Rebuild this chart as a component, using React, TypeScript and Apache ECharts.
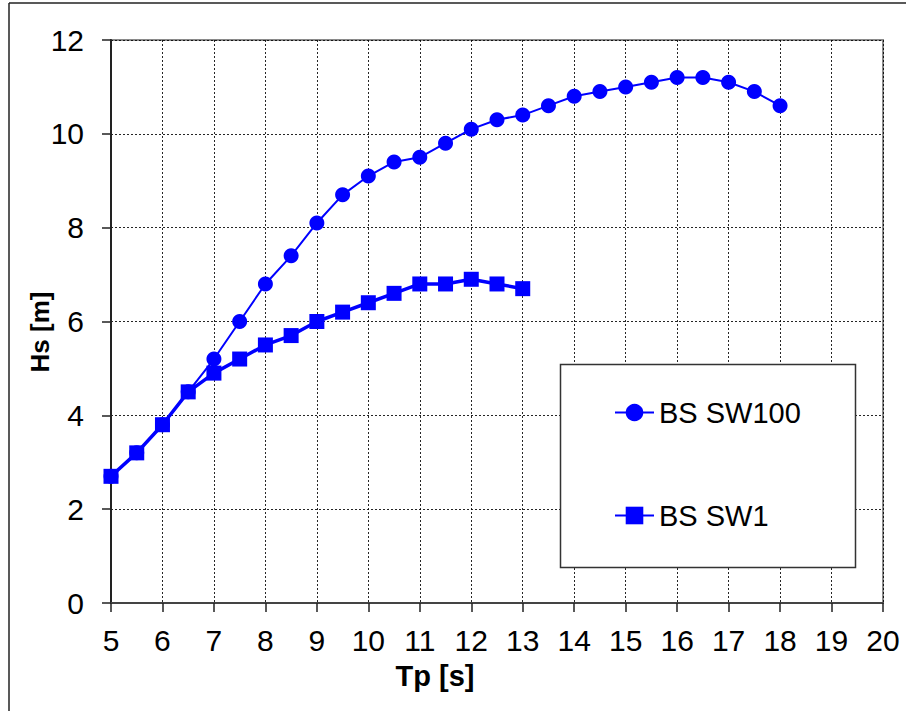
import React, { useEffect, useRef } from "react";
import * as echarts from "echarts";

const tpSW100 = [5, 5.5, 6, 6.5, 7, 7.5, 8, 8.5, 9, 9.5, 10, 10.5, 11, 11.5, 12, 12.5, 13, 13.5, 14, 14.5, 15, 15.5, 16, 16.5, 17, 17.5, 18];
const hsSW100 = [2.7, 3.2, 3.8, 4.5, 5.2, 6.0, 6.8, 7.4, 8.1, 8.7, 9.1, 9.4, 9.5, 9.8, 10.1, 10.3, 10.4, 10.6, 10.8, 10.9, 11.0, 11.1, 11.2, 11.2, 11.1, 10.9, 10.6];
const tpSW1 = [5, 5.5, 6, 6.5, 7, 7.5, 8, 8.5, 9, 9.5, 10, 10.5, 11, 11.5, 12, 12.5, 13];
const hsSW1 = [2.7, 3.2, 3.8, 4.5, 4.9, 5.2, 5.5, 5.7, 6.0, 6.2, 6.4, 6.6, 6.8, 6.8, 6.9, 6.8, 6.7];
const seriesNames = ["BS SW100", "BS SW1"];
const xTitle = "Tp [s]";
const yTitle = "Hs [m]";

const FONT = "'Liberation Sans', Arial, sans-serif";
const BLUE = "#0000ff";

export default function App() {
  const ref = useRef<HTMLDivElement>(null);
  useEffect(() => {
    if (!ref.current) return;
    const chart = echarts.init(ref.current, undefined, { renderer: "svg" });
    const gridLine = { show: true, lineStyle: { color: "#000", width: 1, type: [2, 2] as any, opacity: 0.85 } };
    chart.setOption({
      animation: false,
      backgroundColor: "#fff",
      grid: {
        left: 111,
        top: 40,
        right: 23,
        bottom: 108,
        show: true,
        borderColor: "#8a8a8a",
        borderWidth: 2,
        backgroundColor: "transparent",
      },
      xAxis: {
        type: "value",
        min: 5,
        max: 20,
        interval: 1,
        axisLine: { show: true, onZero: false, lineStyle: { color: "#444", width: 2 } },
        axisTick: { show: true, length: 9, lineStyle: { color: "#222", width: 1.5 } },
        axisLabel: { fontFamily: FONT, fontSize: 30, color: "#000", margin: 22 },
        splitLine: gridLine,
      },
      yAxis: {
        type: "value",
        min: 0,
        max: 12,
        interval: 2,
        axisLine: { show: true, onZero: false, lineStyle: { color: "#222", width: 2 } },
        axisTick: { show: true, length: 9, lineStyle: { color: "#222", width: 1.5 } },
        axisLabel: { fontFamily: FONT, fontSize: 30, color: "#000", margin: 27 },
        splitLine: gridLine,
      },
      legend: {
        show: true,
        orient: "vertical",
        left: 614,
        top: 398,
        padding: 0,
        itemGap: 74,
        itemWidth: 39,
        itemHeight: 22,
        textStyle: { fontFamily: FONT, fontSize: 29, color: "#000" },
        data: seriesNames,
        z: 10,
      },
      graphic: [
        {
          type: "rect",
          z: 5,
          shape: { x: 560.5, y: 364.5, width: 295, height: 203 },
          style: { fill: "#fff", stroke: "#333", lineWidth: 1.5 },
        },
        {
          type: "line",
          z: 5,
          shape: { x1: 9, y1: 3, x2: 9, y2: 711 },
          style: { stroke: "#222", lineWidth: 1.5 },
        },
        {
          type: "line",
          z: 5,
          shape: { x1: 9, y1: 3, x2: 906, y2: 3 },
          style: { stroke: "#222", lineWidth: 1.5 },
        },
        {
          type: "text",
          z: 5,
          x: 435,
          y: 676,
          style: { text: xTitle, fontFamily: FONT, fontWeight: "bold", fontSize: 29, fill: "#000", align: "center", verticalAlign: "middle" },
        },
        {
          type: "text",
          z: 5,
          x: 40,
          y: 332,
          rotation: Math.PI / 2,
          style: { text: yTitle, fontFamily: FONT, fontWeight: "bold", fontSize: 26, fill: "#000", align: "center", verticalAlign: "middle" },
        },
      ],
      series: [
        {
          name: seriesNames[0],
          type: "line",
          data: tpSW100.map((x, i) => [x, hsSW100[i]]),
          symbol: "circle",
          symbolSize: 15,
          showAllSymbol: true,
          itemStyle: { color: BLUE },
          lineStyle: { color: BLUE, width: 2 },
          z: 3,
        },
        {
          name: seriesNames[1],
          type: "line",
          data: tpSW1.map((x, i) => [x, hsSW1[i]]),
          symbol: "rect",
          symbolSize: 15,
          showAllSymbol: true,
          itemStyle: { color: BLUE },
          lineStyle: { color: BLUE, width: 3.5 },
          z: 4,
        },
      ],
    });
    return () => chart.dispose();
  }, []);
  return <div ref={ref} style={{ position: "fixed", left: 0, top: 0, width: 906, height: 711 }} />;
}
